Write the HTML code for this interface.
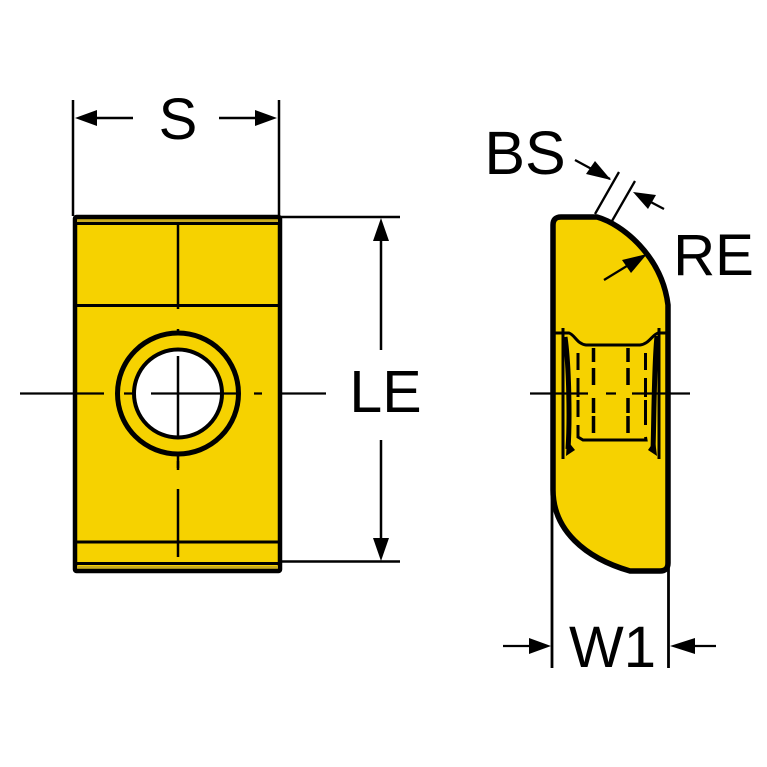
<!DOCTYPE html>
<html>
<head>
<meta charset="utf-8">
<style>
html,body{margin:0;padding:0;background:#fff}
svg{display:block}
text{font-family:"Liberation Sans",sans-serif;fill:#000}
</style>
</head>
<body>
<svg width="767" height="767" viewBox="0 0 767 767" xmlns="http://www.w3.org/2000/svg">
<!-- Left view -->
<rect x="75" y="217" width="205" height="354" rx="1.500" fill="#f6d200" stroke="#000" stroke-width="4.500" stroke-linejoin="round"/>
<rect x="77" y="219.500" width="201" height="2.500" fill="#c9ab20"/>
<rect x="77" y="566" width="201" height="2.500" fill="#c9ab20"/>
<g stroke="#000" fill="none">
<path d="M75 223.500H280M75 305.500H280M75 542H280M75 563.500H280" stroke-width="3"/>
<path d="M178 223V309M178 329V334M178 455V470M178 489V557" stroke-width="2.500"/>
<circle cx="178" cy="393.500" r="60.500" stroke-width="5"/>
<circle cx="178" cy="393.500" r="44" fill="#fff" stroke-width="4"/>
<path d="M20 393.500H104M124 393.500H133M151 393.500H236M254 393.500H262M282 393.500H326" stroke-width="2.300"/>
<path d="M178 356V438M178 461V468" stroke-width="2.500"/>
<!-- dims S -->
<path d="M73 100V216M279 100V216" stroke-width="2.500"/>
<path d="M90 118H133M219 118H262" stroke-width="2.500"/>
<!-- dims LE -->
<path d="M280 217H400M280 561.500H400" stroke-width="2.500"/>
<path d="M381 232V350M381 440V546" stroke-width="2.500"/>
</g>
<g fill="#000">
<polygon points="75,118 97,110 97,126"/>
<polygon points="277,118 255,110 255,126"/>
<polygon points="381,218 373,241 389,241"/>
<polygon points="381,561 373,538 389,538"/>
</g>
<text x="178" y="139" font-size="58" text-anchor="middle">S</text>
<text x="385.500" y="412" font-size="59" text-anchor="middle">LE</text>
<!-- Right view -->
<path d="M553 225Q553 217 561 217H597C622 224 662 256 668 305V563Q668 571 660 571H630C585 558 553 530 553 490Z" fill="#f6d200" stroke="#000" stroke-width="5.500" stroke-linejoin="round"/>
<g stroke="#000" fill="none">
<path d="M553 333H569C575 335 577 344 586 345H640C649 344 652 335 658 333H670" stroke-width="3"/>
<path d="M563 328V459M659 328V459" stroke-width="3"/>
<path d="M565 337C569 365 570 420 568 449M657 336C654 365 654 420 653 451" stroke-width="5"/>
<path d="M578 353V370M578 378V397M578 400V417M578 425V437L583 440H646L645.500 437M645.500 425V417M645.500 400V417M645.500 378V397M645.500 353V370" stroke-width="3"/>
<path d="M593.500 348V362M593.500 368V385M593.500 398V413M593.500 416V433M628 348V362M628 368V385M628 398V413M628 416V433" stroke-width="3.500"/>
<path d="M530 393.500H588M606 393.500H616M632 393.500H690" stroke-width="2.300"/>
<!-- BS -->
<path d="M595 214L619 172M612 221L635 181" stroke-width="2.300"/>
<path d="M575 160L610 179M645 199L664 209" stroke-width="2.300"/>
<!-- RE -->
<path d="M604 280L640 258" stroke-width="2.300"/>
<!-- W1 -->
<path d="M552 480V668M668.500 560V668" stroke-width="2.800"/>
<path d="M503 646H535M686 646H716" stroke-width="2.300"/>
</g>
<g fill="#000">
<polygon points="611,180 595,161 586,174"/>
<polygon points="633,192 656,195 648,209"/>
<polygon points="647,254 622,260 631,273"/>
<polygon points="551,646 529,638 529,654"/>
<polygon points="670,646 695,638 695,654"/>
<polygon points="567,440 575,450 566,456"/>
<polygon points="655,440 648,450 657,456"/>
</g>
<text x="525" y="174" font-size="61" text-anchor="middle">BS</text>
<text x="713.500" y="275" font-size="58" text-anchor="middle">RE</text>
<text x="612.500" y="667" font-size="58" text-anchor="middle">W1</text>
</svg>
</body>
</html>
